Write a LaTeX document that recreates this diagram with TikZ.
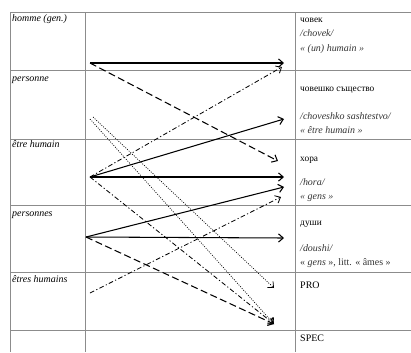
\documentclass[tikz,border=0pt]{standalone}
\usepackage{fontspec}
\setmainfont{Liberation Serif}
\usetikzlibrary{arrows.meta, positioning}

\tikzstyle{grille} = [draw=black!45, line width=0.5pt]
\tikzstyle{source} = [anchor=base west, inner sep=0pt, font={\fontsize{8.5}{10}\selectfont\itshape}]
\tikzstyle{mot} = [anchor=base west, inner sep=0pt, font={\fontsize{8}{10}\selectfont}]
\tikzstyle{glose} = [anchor=base west, inner sep=0pt, font={\fontsize{8.5}{10}\selectfont\itshape}, text=black!80]
\tikzstyle{lien} = [line width=0.9pt, -{Straight Barb[length=4pt, width=7pt]}]
\tikzstyle{tirets} = [lien, dash pattern=on 6pt off 3pt]
\tikzstyle{mixte} = [lien, line width=0.7pt, dash pattern=on 4pt off 2pt on 1pt off 2pt]
\tikzstyle{points} = [lien, line width=0.6pt, dash pattern=on 0.8pt off 1.2pt]

\begin{document}
\begin{tikzpicture}[x=0.03cm, y=-0.03cm]
	
	\useasboundingbox (0,0) rectangle (411,352);
	
	% ====== Grille du tableau ======
	\draw[grille] (10,12) -- (411,12);
	\foreach \y in {70,139,205,272,330}
	\draw[grille] (10,\y) -- (411,\y);
	\foreach \x in {10,85,295}
	\draw[grille] (\x,12) -- (\x,352);
	
	% ====== Colonne de gauche ======
	\node[source] (homme) at (12,21) {homme (gen.)};
	\node[source] (personne) at (12,81) {personne};
	\node[source] (etre) at (12,147) {être humain};
	\node[source] (personnes) at (12,216) {personnes};
	\node[source] (etres) at (12,282) {êtres humains};
	
	% ====== Colonne de droite ======
	\node[mot] (chovek) at (300,22) {човек};
	\node[glose] (chovekT) at (300,36) {/chovek/};
	\node[glose] (chovekG) at (300,51) {« (un) humain »};
	
	\node[mot] (choveshko) at (300,91) {човешко същество};
	\node[glose] (choveshkoT) at (300,119) {/choveshko sashtestvo/};
	\node[glose] (choveshkoG) at (300,133) {« être humain »};
	
	\node[mot] (hora) at (300,161) {хора};
	\node[glose] (horaT) at (300,185) {/hora/};
	\node[glose] (horaG) at (300,199) {« gens »};
	
	\node[mot] (doushi) at (300,225) {души};
	\node[glose] (doushiT) at (300,251) {/doushi/};
	\node[glose, font={\fontsize{8.5}{10}\selectfont}] (doushiG) at (300,265) {« \textit{gens} », litt. « âmes »};
	
	\node[mot, font={\fontsize{8.5}{10}\selectfont}] (pro) at (300,288) {PRO};
	\node[mot, font={\fontsize{8.5}{10}\selectfont}] (spec) at (300,341) {SPEC};
	
	% ====== Points de départ et d'arrivée ======
	\coordinate (sHomme) at (90,63);
	\coordinate (sPersonneA) at (90,119);
	\coordinate (sPersonneB) at (93,117);
	\coordinate (sEtre) at (90,177);
	\coordinate (sPersonnes) at (86,237);
	\coordinate (sEtres) at (90,293);
	
	\coordinate (aChovek) at (284,63);
	\coordinate (aChovekB) at (282,67);
	\coordinate (aChoveshko) at (284,119);
	\coordinate (aHoraA) at (278,161);
	\coordinate (aHoraB) at (284,177);
	\coordinate (aHoraC) at (284,187);
	\coordinate (aHoraD) at (281,197);
	\coordinate (aDoushi) at (284,238);
	\coordinate (aPro) at (274,288);
	\coordinate (aSpec) at (274,324);
	
	% ====== Flèches ======
	\draw[lien] (sHomme) -- (aChovek);
	\draw[tirets] (sHomme) -- (aHoraA);
	
	\draw[points] (sPersonneA) -- (aSpec);
	\draw[points] (sPersonneB) -- (aPro);
	
	\draw[mixte] (sEtre) -- (aChovekB);
	\draw[lien] (sEtre) -- (aChoveshko);
	\draw[lien] (sEtre) -- (aHoraB);
	\draw[mixte] (sEtre) -- (aSpec);
	
	\draw[lien] (sPersonnes) -- (aHoraC);
	\draw[lien] (sPersonnes) -- (aDoushi);
	\draw[tirets] (sPersonnes) -- (aSpec);
	
	\draw[mixte] (sEtres) -- (aHoraD);
	
\end{tikzpicture}
\end{document}
